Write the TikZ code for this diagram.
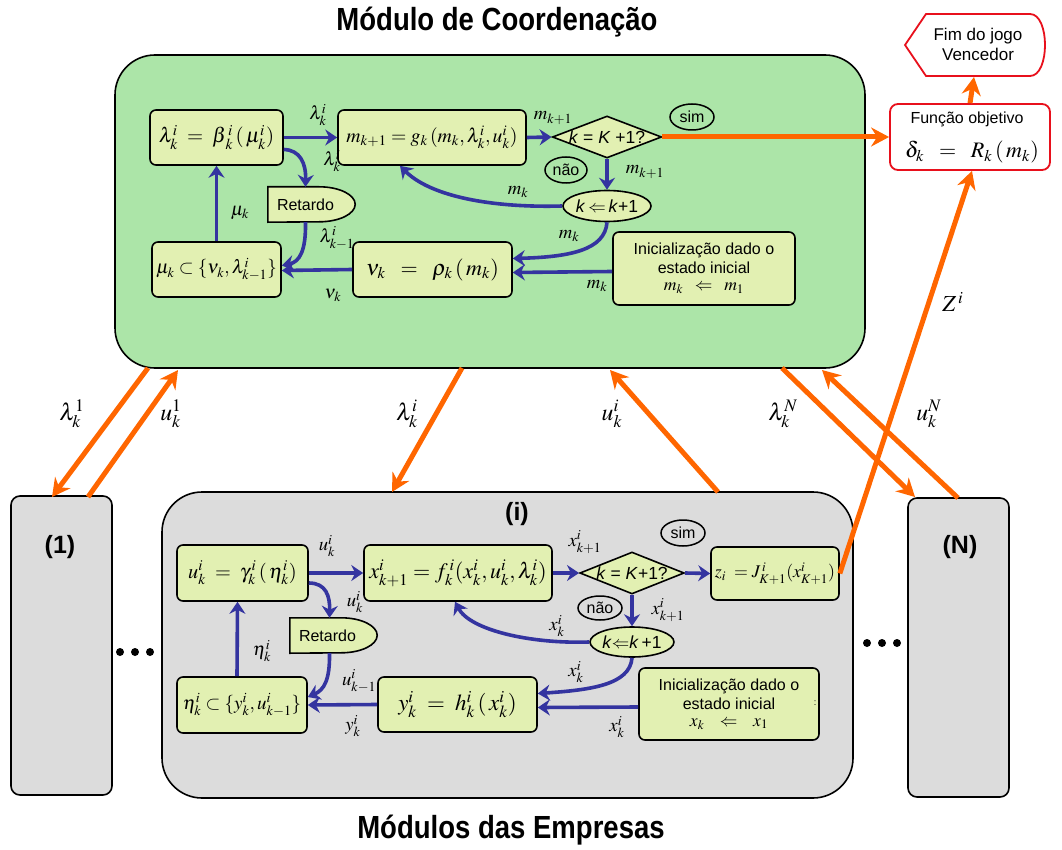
\documentclass[tikz,border=0pt]{standalone}
\usepackage{mathptmx}
\usepackage[no-math]{fontspec}
\usepackage{graphicx}
\setmainfont{Liberation Sans}
\newfontfamily\headfont[FakeStretch=0.86]{Liberation Sans}
\usetikzlibrary{shapes.geometric,arrows.meta,calc}

\definecolor{coordfill}{HTML}{ACE5A8}
\definecolor{boxfill}{HTML}{E2F0B2}
\definecolor{firmfill}{HTML}{DCDCDC}
\definecolor{flowblue}{HTML}{3434A0}
\definecolor{linkorange}{HTML}{FF6600}
\definecolor{endred}{HTML}{E8101C}

\newcommand{\mathsz}{\fontsize{17}{20}\selectfont}
\newcommand{\txtsz}{\fontsize{16}{19}\selectfont}
\newcommand{\condsz}{\fontsize{17.5}{21}\selectfont}
% formula set in math and enlarged by a factor
\newcommand{\fm}[2][1.15]{\scalebox{#1}{$#2$}}

\tikzset{
  panel/.style={draw=black, line width=1.6pt, inner sep=0pt},
  box/.style={draw=black, line width=1.6pt, fill=boxfill, rounded corners=6pt,
              inner sep=0pt, align=center, font=\mathsz},
  decision/.style={diamond, draw=black, line width=1.6pt, fill=boxfill, inner sep=0pt,
              shape aspect=2.6, minimum width=100pt, minimum height=42pt, font=\condsz},
  stepoval/.style={ellipse, draw=black, line width=1.6pt, fill=boxfill, inner sep=0pt,
              minimum width=72pt, minimum height=31pt, font=\condsz},
  answer/.style={ellipse, draw=black, line width=1.5pt, inner sep=0pt,
              minimum width=44pt, minimum height=26pt, font=\txtsz},
  delaybox/.style={inner sep=0pt, minimum width=87pt, minimum height=35pt, font=\txtsz},
  flow/.style={draw=flowblue, line width=3.6pt,
              -{Stealth[length=12pt,width=16pt,inset=4pt]}},
  link/.style={draw=linkorange, line width=5pt,
              -{Stealth[length=18pt,width=19pt,inset=6pt]}},
  lbl/.style={inner sep=0pt, font=\mathsz},
  heading/.style={inner sep=0pt, font=\headfont\bfseries\fontsize{32}{36}\selectfont},
  tag/.style={inner sep=0pt, font=\bfseries\fontsize{25}{28}\selectfont},
}

\begin{document}
\begin{tikzpicture}[x=1pt,y=-1pt]
\useasboundingbox (0,0) rectangle (1062,850);

% ---------- headings ----------
\node[heading] (head1) at (497,22) {Módulo de Coordenação};
\node[heading] (head2) at (511,830) {Módulos das Empresas};

% ---------- panels ----------
\node[panel, fill=coordfill, rounded corners=40pt, minimum width=750pt, minimum height=313pt] (G) at (490,211.5) {};
\node[panel, fill=firmfill, rounded corners=40pt, minimum width=691pt, minimum height=306pt] (P) at (507.5,645) {};
\node[panel, fill=firmfill, rounded corners=9pt, minimum width=101pt, minimum height=299pt] (F1) at (61.5,645.5) {};
\node[panel, fill=firmfill, rounded corners=9pt, minimum width=101pt, minimum height=299pt] (FN) at (958.5,647.5) {};
\node[tag] (t1) at (60,547) {(1)};
\node[tag] (tN) at (960,547) {(N)};
\node[tag] (ti) at (517,514) {(i)};

% dots between firms
\foreach \cx in {120,135,150} \fill (\cx,652) circle (4pt);
\foreach \cx in {867,882,897} \fill (\cx,643) circle (4pt);

% ---------- coordination module ----------
\node[box, minimum width=133pt, minimum height=55pt] (B1) at (216.5,137.5)
  {\fm[1.22]{\lambda^{i}_{k}\;=\;\beta^{\,i}_{\,k}\,(\,\mu^{i}_{k})}};
\node[box, minimum width=188pt, minimum height=55pt] (B2) at (432,137.5)
  {\fm[1.16]{m_{k+1}=g_{k}\,(m_{k},\lambda^{i}_{k},u^{i}_{k})}};
\node[decision] (D1) at (607,137) {\textit{k} = \textit{K} +1?};
\node[answer] (S1) at (692,117) {sim};
\node[answer, minimum width=42pt] (N1) at (566,170) {não};
\node[stepoval] (K1) at (607,206) {\textit{k}\,$\Leftarrow$\,\textit{k}+1};
\node[delaybox] (R1) at (311.5,204.5) {};
\node[box, minimum width=129pt, minimum height=55pt] (B3) at (216.5,269.5)
  {\fm[1.12]{\mu_{k}\subset\{\nu_{k},\lambda^{i}_{k-1}\}}};
\node[box, minimum width=159pt, minimum height=55pt] (B4) at (432.5,269.5)
  {\fm[1.3]{\nu_{k}\;\;=\;\;\rho_{k}\,(\,m_{k})}};
\node[box, font=\txtsz, minimum width=182pt, minimum height=73pt] (B5) at (704,268.5)
  {Inicialização dado o\\estado inicial\\[-2pt]\fm[1.1]{m_{k}\;\;\Leftarrow\;\;m_{1}}};

% delay element: flat back, round front
\draw[line width=1.6pt, fill=boxfill] (R1.south west) -- (R1.north west)
  -- ($(R1.north east)+(-36,0)$) arc[start angle=90, end angle=-90, x radius=36pt, y radius=17.5pt]
  -- cycle;
\node[inner sep=0pt, font=\txtsz] (R1t) at ($(R1.center)+(-6,0)$) {Retardo};

% flows inside the coordination module
\draw[flow] (B1.east) -- (B2.west);
\draw[flow] ($(B1.east)+(0,12)$) .. controls (300,150) and (306,163) .. ($(R1.north)+(-6,0)$);
\draw[flow] ($(R1.south)+(-6,0)$) .. controls (306,250) and (300,262) .. ($(B3.east)+(0,-4)$);
\draw[flow] (B4.west) -- ($(B3.east)+(0,1)$);
\draw[flow] (B3.north) -- (B1.south);
\draw[flow] (B2.east) -- (D1.west);
\draw[flow] (D1.south) -- (K1.north);
\draw[flow] (K1.west) .. controls (490,208) and (430,196) .. ($(B2.south)+(-32,0)$);
\draw[flow] (K1.south) .. controls (605,250) and (570,257) .. ($(B4.east)+(0,-11)$);
\draw[flow] ($(B5.west)+(0,3)$) -- ($(B4.east)+(0,3)$);

\node[lbl] (la1) at (318,115) {\fm[1.1]{\lambda^{i}_{k}}};
\node[lbl] (la2) at (332,161) {\fm[1.1]{\lambda^{i}_{k}}};
\node[lbl] (la3) at (337,238) {\fm[1.1]{\lambda^{i}_{k-1}}};
\node[lbl] (la4) at (333,295) {\fm[1.1]{\nu_{k}}};
\node[lbl] (la5) at (240,213) {\fm[1.1]{\mu_{k}}};
\node[lbl] (la6) at (553,118) {\fm[1.1]{m_{k+1}}};
\node[lbl] (la7) at (645,172) {\fm[1.1]{m_{k+1}}};
\node[lbl] (la8) at (518,192) {\fm[1.1]{m_{k}}};
\node[lbl] (la9) at (569,236) {\fm[1.1]{m_{k}}};
\node[lbl] (la10) at (597,286) {\fm[1.1]{m_{k}}};

% ---------- end of game ----------
\node[draw=endred, line width=1.8pt, fill=white, rounded corners=8pt, inner sep=0pt,
      minimum width=160pt, minimum height=66pt] (F) at (970,137) {};
\node[inner sep=0pt, font=\txtsz] (Ft) at (967,119) {Função objetivo};
\node[inner sep=0pt, font=\mathsz] (Fm) at (972,152) {\fm[1.3]{\delta_{k}\;\;=\;\;R_{k}\,(\,m_{k})}};
\draw[draw=endred, line width=1.8pt, fill=white]
  (905,45) -- (926,14) -- (1030,14) .. controls (1050,14) and (1050,76) .. (1030,76) -- (926,76) -- cycle;
\node[inner sep=0pt, font=\fontsize{17}{20}\selectfont, align=center] (W) at (978,44) {Fim do jogo\\Vencedor};
\coordinate (Wb) at (974,77);

% ---------- firm i ----------
\node[box, minimum width=131pt, minimum height=56pt] (C1) at (242.5,573)
  {\fm[1.2]{u^{i}_{k}\;=\;\gamma^{\,i}_{k}\,(\,\eta^{i}_{k})}};
\node[box, minimum width=188pt, minimum height=56pt] (C2) at (458,573)
  {\fm[1.3]{x^{i}_{k+1}=f^{\,i}_{k}(x^{i}_{k},u^{i}_{k},\lambda^{i}_{k})}};
\node[decision] (D2) at (632,573) {\textit{k} = \textit{K}+1?};
\node[answer] (S2) at (683,533) {sim};
\node[answer, minimum height=24pt] (N2) at (600,608) {não};
\node[stepoval, minimum height=30pt] (K2) at (632,642) {\textit{k}$\Leftarrow$\textit{k}\,+1};
\node[box, minimum width=128pt, minimum height=53pt] (Z) at (775,573.5)
  {\fm[1.05]{z_{i}\;=J^{\,i}_{K+1}(x^{i}_{K+1})}};
\node[box, font=\txtsz, minimum width=180pt, minimum height=72pt] (C5) at (729,704)
  {Inicialização dado o\\estado inicial\\[-2pt]\fm[1.1]{x_{k}\;\;\;\Leftarrow\;\;\;x_{1}}};
\node[inner sep=0pt, font=\fontsize{9}{10}\selectfont] (C5c) at (815,703) {:};
\node[delaybox] (R2) at (333.5,635.5) {};
\node[box, minimum width=130pt, minimum height=56pt] (C3) at (242,705)
  {\fm[1.12]{\eta^{i}_{k}\subset\{y^{i}_{k},u^{i}_{k-1}\}}};
\node[box, minimum width=159pt, minimum height=55pt] (C4) at (457.5,704.5)
  {\fm[1.35]{y^{i}_{k}\;=\;h^{i}_{k}\,(\,x^{i}_{k})}};

\draw[line width=1.6pt, fill=boxfill] (R2.south west) -- (R2.north west)
  -- ($(R2.north east)+(-36,0)$) arc[start angle=90, end angle=-90, x radius=36pt, y radius=17.5pt]
  -- cycle;
\node[inner sep=0pt, font=\txtsz] (R2t) at ($(R2.center)+(-6,0)$) {Retardo};

\draw[flow] (C1.east) -- (C2.west);
\draw[flow] ($(C1.east)+(0,10)$) .. controls (326,583) and (330,596) .. ($(R2.north)+(-4,0)$);
\draw[flow] ($(R2.south)+(-4,0)$) .. controls (330,680) and (324,690) .. ($(C3.east)+(0,-8)$);
\draw[flow] (C4.west) -- (C3.east);
\draw[flow] ($(C3.north)+(-5,0)$) -- ($(C1.south)+(-5,0)$);
\draw[flow] (C2.east) -- (D2.west);
\draw[flow] (D2.east) -- (Z.west);
\draw[flow] (D2.south) -- (K2.north);
\draw[flow] (K2.west) .. controls (530,644) and (470,630) .. ($(C2.south)+(-3,0)$);
\draw[flow] (K2.south) .. controls (630,685) and (590,690) .. ($(C4.east)+(0,-11)$);
\draw[flow] ($(C5.west)+(0,3)$) -- ($(C4.east)+(0,3)$);

\node[lbl] (lb1) at (327,546) {\fm[1.1]{u^{i}_{k}}};
\node[lbl] (lb2) at (355,602) {\fm[1.1]{u^{i}_{k}}};
\node[lbl] (lb3) at (359,681) {\fm[1.1]{u^{i}_{k-1}}};
\node[lbl] (lb4) at (353,726) {\fm[1.1]{y^{i}_{k}}};
\node[lbl] (lb5) at (262,651) {\fm[1.1]{\eta^{i}_{k}}};
\node[lbl] (lb6) at (585,542) {\fm[1.1]{x^{i}_{k+1}}};
\node[lbl] (lb7) at (668,610) {\fm[1.1]{x^{i}_{k+1}}};
\node[lbl] (lb8) at (557,626) {\fm[1.1]{x^{i}_{k}}};
\node[lbl] (lb9) at (576,672) {\fm[1.1]{x^{i}_{k}}};
\node[lbl] (lb10) at (617,727) {\fm[1.1]{x^{i}_{k}}};

% ---------- links between the modules ----------
\coordinate (g1) at (148,368);  \coordinate (f1a) at (52,497);
\coordinate (f1b) at (88,497);  \coordinate (g2) at (178,370);
\coordinate (g3) at (462,368);  \coordinate (pa) at (392,492);
\coordinate (pb) at (718,492);  \coordinate (g4) at (610,370);
\coordinate (g5) at (782,368);  \coordinate (fna) at (915,497);
\coordinate (fnb) at (958,498); \coordinate (g6) at (822,370);

\draw[link] (g1) -- (f1a);
\draw[link] (f1b) -- (g2);
\draw[link] (g3) -- (pa);
\draw[link] (pb) -- (g4);
\draw[link] (g5) -- (fna);
\draw[link] (fnb) -- (g6);
\draw[link] (Z.east) -- ($(F.south)+(2,0)$);
\draw[link] (D1.east) -- (F.west);
\draw[link] (F.north) -- (Wb);

\node[lbl] (lc1) at (72,414) {\fm[1.4]{\lambda^{1}_{k}}};
\node[lbl] (lc2) at (171,414) {\fm[1.4]{u^{1}_{k}}};
\node[lbl] (lc3) at (407,414) {\fm[1.4]{\lambda^{i}_{k}}};
\node[lbl] (lc4) at (612,414) {\fm[1.4]{u^{i}_{k}}};
\node[lbl] (lc5) at (783,414) {\fm[1.4]{\lambda^{N}_{k}}};
\node[lbl] (lc6) at (929,414) {\fm[1.4]{u^{N}_{k}}};
\node[lbl] (lc7) at (953,302) {\fm[1.35]{Z^{\,i}}};
\end{tikzpicture}
\end{document}
